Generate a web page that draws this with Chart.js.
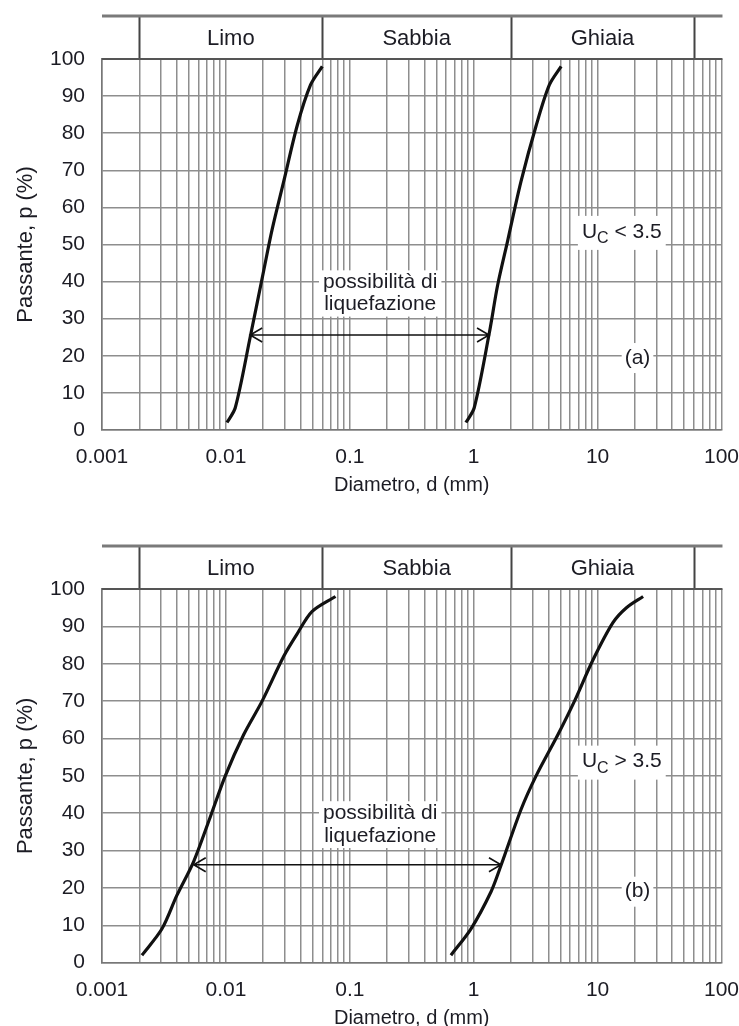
<!DOCTYPE html>
<html><head><meta charset="utf-8">
<script src="https://cdn.jsdelivr.net/npm/chart.js@4.4.1/dist/chart.umd.min.js"></script>
<style>
html,body{margin:0;padding:0;background:#fff;width:739px;height:1026px;overflow:hidden;}
.wrap{position:absolute;left:0;width:739px;height:513px;}
</style></head><body>
<div class="wrap" style="top:0px"><canvas id="ca" width="739" height="513"></canvas></div>
<div class="wrap" style="top:530px"><canvas id="cb" width="739" height="513"></canvas></div>
<script>
// ---- axis ticks ----
const X_MAJOR = [0.001, 0.01, 0.1, 1, 10, 100];
const X_TICK_LABELS = ['0.001', '0.01', '0.1', '1', '10', '100'];
const X_MINOR_MULT = [2, 3, 4, 5, 6, 7, 8, 9];
const Y_TICKS = [0, 10, 20, 30, 40, 50, 60, 70, 80, 90, 100];

// ---- soil class bands ----
const ZONE_NAMES = ['Limo', 'Sabbia', 'Ghiaia'];
const ZONE_BOUNDS = [0.002, 0.06, 2, 60];

// ---- chart (a): U_C < 3.5 ----
const A_FINE_D = [0.0102, 0.0119, 0.0157, 0.0202, 0.0236, 0.0293, 0.0376, 0.0482, 0.060];
const A_FINE_P = [2, 6, 25, 43, 54, 67, 82, 93, 98];
const A_COARSE_D = [0.865, 1.01, 1.334, 1.56, 1.88, 2.41, 3.19, 4.08, 5.08];
const A_COARSE_P = [2, 6, 26, 39, 51, 67, 82, 93, 98];
const A_ARROW_D = [0.0157, 1.33];
const A_ARROW_P = 25.6;

// ---- chart (b): U_C > 3.5 ----
const B_FINE_D = [0.0021, 0.00304, 0.00402, 0.00548, 0.00748, 0.00989, 0.0139, 0.0196, 0.0293, 0.0376, 0.0497, 0.0767];
const B_FINE_P = [2, 9, 18, 27, 39, 50, 61, 70, 82, 88, 94, 98];
const B_COARSE_D = [0.655, 0.948, 1.38, 1.66, 2.41, 3.19, 4.78, 6.51, 9.17, 13.3, 17.1, 23.3];
const B_COARSE_P = [2, 9, 19, 26, 41, 50, 61, 70, 81, 91, 95, 98];
const B_ARROW_D = [0.0055, 1.66];
const B_ARROW_P = 26.2;

// ---- texts ----
const LIQ_TEXT = ['possibilità di', 'liquefazione'];
const X_TITLE = 'Diametro, d (mm)';
const Y_TITLE = 'Passante, p (%)';

const FONT = '"Liberation Sans", Arial, Helvetica, sans-serif';
const TXT = '#1c1c24';
const GRID = '#8e8e8e';

const X_ALL = [];
X_MAJOR.forEach((m, i) => {
  X_ALL.push(m);
  if (i < X_MAJOR.length - 1) X_MINOR_MULT.forEach(k => X_ALL.push(+(m * k).toPrecision(6)));
});

function majorLabel(v) {
  for (let i = 0; i < X_MAJOR.length; i++) {
    if (Math.abs(v - X_MAJOR[i]) / X_MAJOR[i] < 1e-6) return X_TICK_LABELS[i];
  }
  return '';
}

function toPts(ds, ps) { return ds.map((d, i) => ({x: d, y: ps[i]})); }

function makePlugin(cfg) {
  return {
    id: 'annot_' + cfg.id,
    beforeDatasetsDraw(chart) {
      const ctx = chart.ctx, xs = chart.scales.x, ys = chart.scales.y;
      ctx.save();
      ctx.font = '21px ' + FONT;
      ctx.textBaseline = 'middle';
      ctx.textAlign = 'center';
      // liquefaction text
      const cx = xs.getPixelForValue(cfg.liqD);
      const yy = cfg.liqP.map(p => ys.getPixelForValue(p));
      const w = Math.max(...LIQ_TEXT.map(t => ctx.measureText(t).width));
      ctx.fillStyle = '#fff';
      ctx.fillRect(cx - w / 2 - 4, yy[0] - 12, w + 8, yy[1] - yy[0] + 24);
      ctx.fillStyle = TXT;
      LIQ_TEXT.forEach((t, i) => ctx.fillText(t, cx, yy[i]));
      // U_C label
      const ux = xs.getPixelForValue(cfg.ucD), uy = ys.getPixelForValue(cfg.ucP);
      ctx.textAlign = 'left';
      ctx.font = '21px ' + FONT;
      const wU = ctx.measureText('U').width;
      ctx.font = '16px ' + FONT;
      const wC = ctx.measureText('C').width;
      ctx.font = '21px ' + FONT;
      const rest = ' ' + cfg.ucSign + ' 3.5';
      const wR = ctx.measureText(rest).width;
      ctx.fillStyle = '#fff';
      ctx.fillRect(ux - 4, uy - 16, wU + wC + wR + 8, 34);
      ctx.fillStyle = TXT;
      ctx.fillText('U', ux, uy);
      ctx.font = '16px ' + FONT;
      ctx.fillText('C', ux + wU, uy + 7);
      ctx.font = '21px ' + FONT;
      ctx.fillText(rest, ux + wU + wC, uy);
      // panel letter
      ctx.textAlign = 'center';
      const lx = xs.getPixelForValue(cfg.letterD), ly = ys.getPixelForValue(cfg.letterP);
      const wl = ctx.measureText(cfg.letter).width;
      ctx.fillStyle = '#fff';
      ctx.fillRect(lx - wl / 2 - 3, ly - 15, wl + 6, 30);
      ctx.fillStyle = TXT;
      ctx.fillText(cfg.letter, lx, ly);
      ctx.restore();
    },
    afterDraw(chart) {
      const ctx = chart.ctx, xs = chart.scales.x, ys = chart.scales.y, ca = chart.chartArea;
      ctx.save();
      // arrow
      const x0 = xs.getPixelForValue(cfg.arrowD[0]), x1 = xs.getPixelForValue(cfg.arrowD[1]);
      const ay = ys.getPixelForValue(cfg.arrowP);
      ctx.strokeStyle = '#111';
      ctx.lineWidth = 1.6;
      ctx.beginPath();
      ctx.moveTo(x0, ay); ctx.lineTo(x1, ay);
      ctx.moveTo(x0 + 12, ay - 7); ctx.lineTo(x0, ay); ctx.lineTo(x0 + 12, ay + 7);
      ctx.moveTo(x1 - 12, ay - 7); ctx.lineTo(x1, ay); ctx.lineTo(x1 - 12, ay + 7);
      ctx.stroke();
      // header band
      const topY = ca.top - 43;
      ctx.strokeStyle = '#444';
      ctx.lineWidth = 2;
      ctx.beginPath();
      ZONE_BOUNDS.forEach(b => {
        const px = Math.round(xs.getPixelForValue(b)) + 0.5;
        ctx.moveTo(px, topY); ctx.lineTo(px, ca.top);
      });
      ctx.stroke();
      ctx.strokeStyle = '#7a7a7a';
      ctx.lineWidth = 3;
      ctx.beginPath();
      ctx.moveTo(ca.left, topY); ctx.lineTo(ca.right + 1, topY);
      ctx.stroke();
      ctx.strokeStyle = '#555';
      ctx.lineWidth = 2;
      ctx.beginPath();
      ctx.moveTo(ca.left, ca.top); ctx.lineTo(ca.right + 1, ca.top);
      ctx.stroke();
      ctx.fillStyle = TXT;
      ctx.font = '22px ' + FONT;
      ctx.textAlign = 'center';
      ctx.textBaseline = 'middle';
      ZONE_NAMES.forEach((n, i) => {
        const a = xs.getPixelForValue(ZONE_BOUNDS[i]), b = xs.getPixelForValue(ZONE_BOUNDS[i + 1]);
        ctx.fillText(n, (a + b) / 2, (topY + ca.top) / 2 + 1);
      });
      ctx.restore();
    }
  };
}

function makeChart(id, fine, coarse, plotBottomRel, titlePad, cfg) {
  const lineDs = (pts) => ({
    data: pts, borderColor: '#111', borderWidth: 3.2, pointRadius: 0,
    tension: 0.3, fill: false, cubicInterpolationMode: 'default'
  });
  return new Chart(document.getElementById(id), {
    type: 'line',
    data: { datasets: [lineDs(fine), lineDs(coarse)] },
    options: {
      responsive: false,
      animation: false,
      devicePixelRatio: 1,
      layout: { padding: { top: 59, right: 4, left: 0, bottom: 0 } },
      plugins: { legend: { display: false }, tooltip: { enabled: false } },
      scales: {
        x: {
          type: 'logarithmic', min: 0.001, max: 100,
          afterBuildTicks: s => { s.ticks = X_ALL.map(v => ({ value: v })); },
          afterFit: s => { s.height = 513 - plotBottomRel; },
          ticks: {
            autoSkip: false, maxRotation: 0, minRotation: 0, padding: 0,
            color: TXT, font: { family: FONT, size: 21 },
            callback: v => majorLabel(v)
          },
          grid: { color: GRID, lineWidth: 1.5, drawTicks: true, tickLength: 15, tickColor: 'rgba(0,0,0,0)' },
          border: { display: true, color: '#777', width: 1.5 },
          title: { display: true, text: X_TITLE, color: TXT, font: { family: FONT, size: 20 }, padding: { top: 0, bottom: titlePad } }
        },
        y: {
          type: 'linear', min: 0, max: 100,
          afterBuildTicks: s => { s.ticks = Y_TICKS.map(v => ({ value: v })); },
          afterFit: s => { s.width = 102; },
          ticks: { padding: 17, color: TXT, font: { family: FONT, size: 21 } },
          grid: { color: GRID, lineWidth: 1.5, drawTicks: false },
          border: { display: true, color: '#777', width: 1.5 },
          title: { display: true, text: Y_TITLE, color: TXT, font: { family: FONT, size: 22 }, padding: { top: 13, bottom: 0 } }
        }
      }
    },
    plugins: [makePlugin(cfg)]
  });
}

makeChart('ca', toPts(A_FINE_D, A_FINE_P), toPts(A_COARSE_D, A_COARSE_P), 430, 16, {
  id: 'a', liqD: 0.176, liqP: [39.8, 33.8], ucD: 7.47, ucP: 53.4, ucSign: '<',
  letter: '(a)', letterD: 21, letterP: 19.4, arrowD: A_ARROW_D, arrowP: A_ARROW_P
});
makeChart('cb', toPts(B_FINE_D, B_FINE_P), toPts(B_COARSE_D, B_COARSE_P), 432.7, 13, {
  id: 'b', liqD: 0.176, liqP: [40.0, 33.9], ucD: 7.47, ucP: 53.8, ucSign: '>',
  letter: '(b)', letterD: 21, letterP: 19.0, arrowD: B_ARROW_D, arrowP: B_ARROW_P
});
</script>
</body></html>
